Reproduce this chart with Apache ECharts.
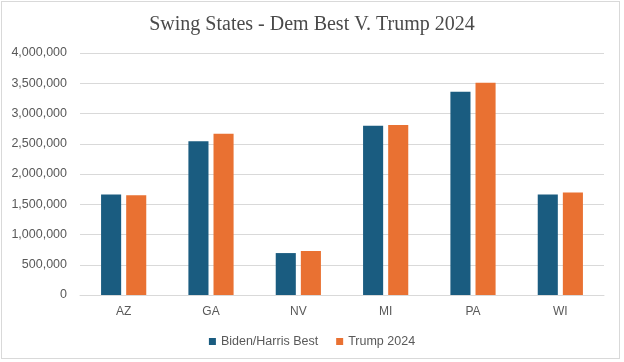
<!DOCTYPE html>
<html><head><meta charset="utf-8">
<script src="https://cdn.jsdelivr.net/npm/echarts@6/dist/echarts.min.js"></script>
<style>
html,body{margin:0;padding:0;background:#fff;}
#frame{position:absolute;left:1px;top:1px;width:619px;height:358px;border:1px solid #d9d9d9;box-sizing:border-box;}
#c{position:absolute;left:0;top:0;width:624px;height:362px;}
</style></head>
<body><div id="frame"></div><div id="c"></div>
<script>
const categories = ['AZ','GA','NV','MI','PA','WI'];
const bidenHarrisBest = [1660000, 2541000, 693000, 2799000, 3360000, 1660000];
const trump2024 = [1650000, 2667000, 726000, 2810000, 3508000, 1693000];
const seriesNames = ['Biden/Harris Best', 'Trump 2024'];

const chart = echarts.init(document.getElementById('c'), null, {renderer:'canvas'});
chart.setOption({
  animation:false,
  title:{text:'Swing States - Dem Best V. Trump 2024', left:'center', top:10,
    textStyle:{fontFamily:'Liberation Serif', fontWeight:'normal', fontSize:20, color:'#4a4a4a'}},
  legend:{bottom:9, left:'center', itemWidth:7, itemHeight:7, itemGap:18, icon:'rect',
    textStyle:{fontFamily:'Liberation Sans', fontSize:12.5, color:'#595959'}},
  grid:{left:80, right:20, top:53, bottom:67, containLabel:false},
  xAxis:{type:'category', data:categories,
    axisLine:{lineStyle:{color:'#d9d9d9'}}, axisTick:{show:false},
    axisLabel:{fontFamily:'Liberation Sans', fontSize:12, color:'#595959', margin:11}},
  yAxis:{type:'value', min:0, max:4000000, interval:500000,
    axisLine:{show:false}, axisTick:{show:false},
    splitLine:{lineStyle:{color:'#d9d9d9'}},
    axisLabel:{fontFamily:'Liberation Sans', fontSize:12.5, color:'#595959', margin:13,
      formatter:v=>v.toLocaleString('en-US')}},
  series:[
    {name:seriesNames[0], type:'bar', data:bidenHarrisBest, barWidth:'23%', barGap:'25%', itemStyle:{color:'#1a5c80'}},
    {name:seriesNames[1], type:'bar', data:trump2024, barWidth:'23%', barGap:'25%', itemStyle:{color:'#e97132'}}
  ]
});
</script></body></html>
